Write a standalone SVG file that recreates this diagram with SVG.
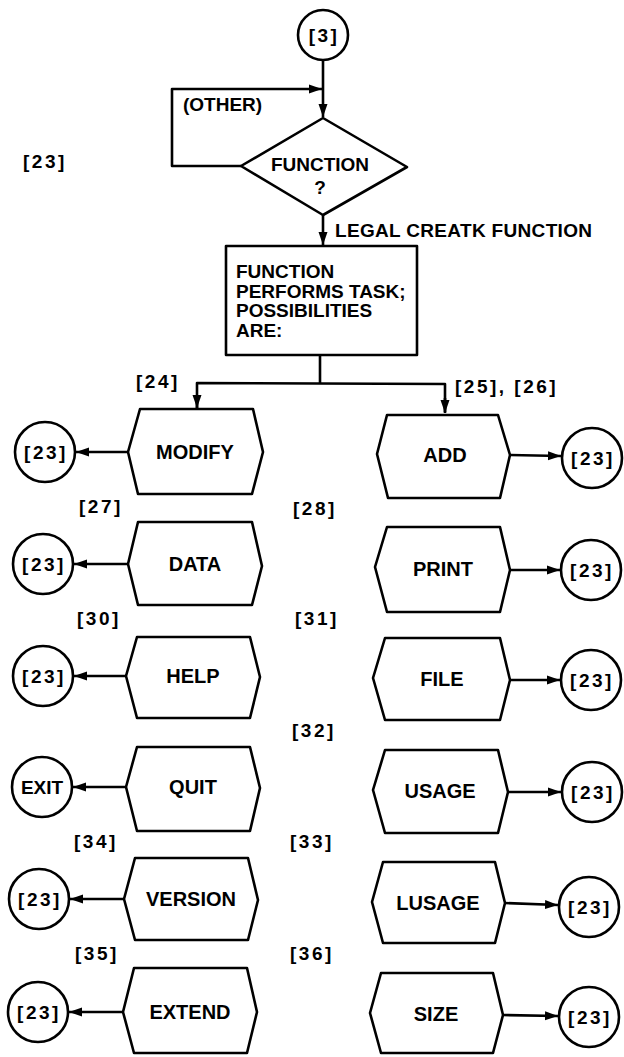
<svg xmlns="http://www.w3.org/2000/svg" width="624" height="1057" viewBox="0 0 624 1057">
<style>
.s{fill:none;stroke:#000;stroke-width:2.6;stroke-linejoin:round}
.h{fill:#fff;stroke:#000;stroke-width:2.6;stroke-linejoin:round}
.t{font-family:"Liberation Sans",Arial,sans-serif;font-weight:bold;font-size:19px;fill:#000}
.n{font-size:20px}
.c{text-anchor:middle}
.b{letter-spacing:2.5px}
</style>
<defs>
<marker id="ah" markerUnits="userSpaceOnUse" markerWidth="14" markerHeight="10" refX="13" refY="5" orient="auto">
<path d="M0,0.5 L13,5 L0,9.5 z" fill="#000"/>
</marker>
</defs>
<rect width="624" height="1057" fill="#fff"/>

<g id="connectors" class="s">
<line x1="323" y1="60" x2="323" y2="117" marker-end="url(#ah)"/>
<polyline points="241,166 172,166 172,89 322,89" marker-end="url(#ah)"/>
<line x1="323" y1="215" x2="323" y2="245" marker-end="url(#ah)"/>
<line x1="320" y1="355" x2="320" y2="383"/>
<polyline points="197,408 197,383 445,384 445,412"/>
<line x1="197" y1="395" x2="197" y2="408" marker-end="url(#ah)"/>
<line x1="445" y1="398" x2="445" y2="413" marker-end="url(#ah)"/>
<line x1="128" y1="452" x2="76" y2="452" marker-end="url(#ah)"/>
<line x1="128" y1="564" x2="74" y2="564" marker-end="url(#ah)"/>
<line x1="126" y1="676" x2="74" y2="676" marker-end="url(#ah)"/>
<line x1="126" y1="787" x2="73" y2="787" marker-end="url(#ah)"/>
<line x1="124" y1="899" x2="70" y2="899" marker-end="url(#ah)"/>
<line x1="123" y1="1012" x2="69" y2="1012" marker-end="url(#ah)"/>
<line x1="510" y1="455" x2="561" y2="456" marker-end="url(#ah)"/>
<line x1="510" y1="570" x2="560" y2="570" marker-end="url(#ah)"/>
<line x1="510" y1="680" x2="560" y2="680" marker-end="url(#ah)"/>
<line x1="508" y1="792" x2="561" y2="792" marker-end="url(#ah)"/>
<line x1="505" y1="903" x2="558" y2="905" marker-end="url(#ah)"/>
<line x1="503" y1="1015" x2="558" y2="1016" marker-end="url(#ah)"/>
</g>

<g id="labels" class="t">
<text x="183" y="111">(OTHER)</text>
<text x="23" y="168" class="b">[23]</text>
<text x="335" y="237" textLength="257" lengthAdjust="spacing">LEGAL CREATK FUNCTION</text>
<text x="136" y="388" class="b">[24]</text>
<text x="455" y="393" class="b">[25], [26]</text>
<text x="79" y="513" class="b">[27]</text>
<text x="293" y="515" class="b">[28]</text>
<text x="77" y="625" class="b">[30]</text>
<text x="295" y="625" class="b">[31]</text>
<text x="292" y="737" class="b">[32]</text>
<text x="74" y="848" class="b">[34]</text>
<text x="290" y="848" class="b">[33]</text>
<text x="75" y="960" class="b">[35]</text>
<text x="290" y="960" class="b">[36]</text>
</g>

<g id="start">
<circle cx="323" cy="35" r="25" class="h"/>
<text x="324" y="42" class="t c b">[3]</text>
</g>

<g id="decision">
<polygon points="323,118 407,167 323,215 241,166" class="h"/>
<text x="320" y="171" class="t c">FUNCTION</text>
<text x="320" y="194" class="t c">?</text>
</g>

<g id="process">
<rect x="226" y="246" width="191" height="109" class="h"/>
<text class="t" x="236" y="278">FUNCTION</text>
<text class="t" x="236" y="298">PERFORMS TASK;</text>
<text class="t" x="236" y="317">POSSIBILITIES</text>
<text class="t" x="236" y="337">ARE:</text>
</g>

<g id="modify">
<polygon points="128,452 140,409 253,409 263,452 252,494 138,494" class="h"/>
<text x="195" y="459" class="t n c">MODIFY</text>
</g>
<g id="modify-end"><circle cx="45" cy="452" r="30" class="h"/><text x="46" y="459" class="t c b">[23]</text></g>

<g id="data">
<polygon points="128,564 138,522 252,522 262,566 252,605 138,605" class="h"/>
<text x="195" y="571" class="t n c">DATA</text>
</g>
<g id="data-end"><circle cx="43" cy="564" r="30" class="h"/><text x="44" y="571" class="t c b">[23]</text></g>

<g id="help">
<polygon points="126,676 137,637 250,637 260,677 250,718 137,718" class="h"/>
<text x="193" y="683" class="t n c">HELP</text>
</g>
<g id="help-end"><circle cx="43" cy="676" r="30" class="h"/><text x="44" y="683" class="t c b">[23]</text></g>

<g id="quit">
<polygon points="126,787 137,747 250,747 260,788 250,831 137,831" class="h"/>
<text x="193" y="794" class="t n c">QUIT</text>
</g>
<g id="exit"><circle cx="42" cy="787" r="30" class="h"/><text x="42" y="794" class="t c">EXIT</text></g>

<g id="version">
<polygon points="124,899 135,858 248,858 258,900 248,940 135,940" class="h"/>
<text x="191" y="906" class="t n c">VERSION</text>
</g>
<g id="version-end"><circle cx="39" cy="899" r="30" class="h"/><text x="40" y="906" class="t c b">[23]</text></g>

<g id="extend">
<polygon points="123,1012 134,968 247,968 257,1012 247,1053 134,1053" class="h"/>
<text x="190" y="1019" class="t n c">EXTEND</text>
</g>
<g id="extend-end"><circle cx="38" cy="1012" r="30" class="h"/><text x="39" y="1019" class="t c b">[23]</text></g>

<g id="add">
<polygon points="377,454 387,415 498,415 510,455 500,498 388,498" class="h"/>
<text x="445" y="462" class="t n c">ADD</text>
</g>
<g id="add-end"><circle cx="592" cy="458" r="30" class="h"/><text x="593" y="465" class="t c b">[23]</text></g>

<g id="print">
<polygon points="375,567 387,527 500,527 510,570 500,612 387,612" class="h"/>
<text x="443" y="576" class="t n c">PRINT</text>
</g>
<g id="print-end"><circle cx="591" cy="570" r="30" class="h"/><text x="592" y="577" class="t c b">[23]</text></g>

<g id="file">
<polygon points="373,678 385,638 500,638 510,680 500,720 385,720" class="h"/>
<text x="442" y="686" class="t n c">FILE</text>
</g>
<g id="file-end"><circle cx="591" cy="680" r="30" class="h"/><text x="592" y="687" class="t c b">[23]</text></g>

<g id="usage">
<polygon points="373,790 385,750 498,750 508,792 498,833 385,833" class="h"/>
<text x="440" y="798" class="t n c">USAGE</text>
</g>
<g id="usage-end"><circle cx="592" cy="792" r="30" class="h"/><text x="593" y="799" class="t c b">[23]</text></g>

<g id="lusage">
<polygon points="372,902 383,862 495,862 505,903 495,943 383,943" class="h"/>
<text x="438" y="910" class="t n c">LUSAGE</text>
</g>
<g id="lusage-end"><circle cx="589" cy="907" r="30" class="h"/><text x="590" y="914" class="t c b">[23]</text></g>

<g id="size">
<polygon points="370,1013 381,973 493,973 503,1015 493,1053 381,1053" class="h"/>
<text x="436" y="1021" class="t n c">SIZE</text>
</g>
<g id="size-end"><circle cx="589" cy="1017" r="30" class="h"/><text x="590" y="1024" class="t c b">[23]</text></g>
</svg>
